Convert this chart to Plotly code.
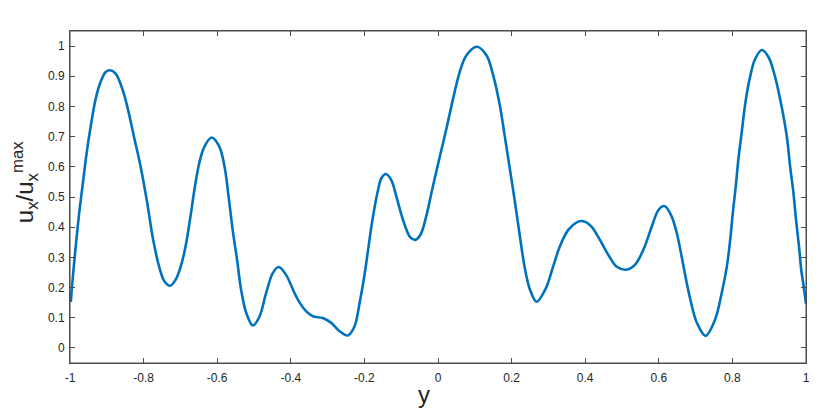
import plotly.graph_objects as go

# Values (position y, normalised velocity u_x/u_x^max)
y_pos = [-0.9976, -0.996, -0.988, -0.980, -0.973, -0.964, -0.955, -0.944, -0.931, -0.917,
         -0.903, -0.891, -0.876, -0.858, -0.844, -0.826, -0.808, -0.790, -0.774, -0.758,
         -0.743, -0.728, -0.713, -0.699, -0.686, -0.672, -0.662, -0.649, -0.635, -0.615,
         -0.594, -0.580, -0.569, -0.558, -0.546, -0.535, -0.521, -0.503, -0.485, -0.467,
         -0.449, -0.433, -0.413, -0.390, -0.376, -0.358, -0.340, -0.313, -0.290, -0.267,
         -0.245, -0.227, -0.213, -0.199, -0.190, -0.181, -0.172, -0.163, -0.154, -0.142,
         -0.127, -0.113, -0.100, -0.087, -0.075, -0.062, -0.048, -0.032, -0.014, 0.005, 0.023,
         0.041, 0.059, 0.077, 0.106, 0.132, 0.150, 0.168, 0.181, 0.195, 0.209,
         0.222, 0.236, 0.250, 0.268, 0.292, 0.313, 0.331, 0.354, 0.377, 0.395,
         0.417, 0.440, 0.463, 0.485, 0.511, 0.535, 0.558, 0.581, 0.599, 0.615,
         0.633, 0.649, 0.662, 0.676, 0.690, 0.703, 0.727, 0.753, 0.771, 0.785,
         0.794, 0.801, 0.809, 0.816, 0.826, 0.835, 0.848, 0.862, 0.880, 0.898,
         0.916, 0.934, 0.948, 0.957, 0.966, 0.973, 0.981, 0.987, 0.993, 1.0]
ux_norm = [0.152, 0.182, 0.292, 0.391, 0.468, 0.556, 0.644, 0.732, 0.821, 0.881,
           0.914, 0.920, 0.909, 0.859, 0.798, 0.699, 0.600, 0.479, 0.358, 0.270,
           0.220, 0.206, 0.226, 0.270, 0.336, 0.440, 0.523, 0.611, 0.666, 0.697,
           0.666, 0.600, 0.501, 0.391, 0.292, 0.193, 0.116, 0.074, 0.104, 0.182,
           0.248, 0.268, 0.242, 0.182, 0.150, 0.121, 0.105, 0.099, 0.083, 0.055,
           0.041, 0.071, 0.149, 0.248, 0.325, 0.402, 0.468, 0.523, 0.562, 0.576,
           0.556, 0.501, 0.444, 0.396, 0.366, 0.358, 0.374, 0.436, 0.535, 0.634, 0.727,
           0.826, 0.914, 0.969, 0.998, 0.969, 0.903, 0.804, 0.705, 0.595, 0.484,
           0.374, 0.264, 0.193, 0.153, 0.195, 0.270, 0.336, 0.391, 0.416, 0.420,
           0.402, 0.358, 0.308, 0.270, 0.259, 0.275, 0.325, 0.402, 0.457, 0.470,
           0.441, 0.380, 0.303, 0.215, 0.138, 0.085, 0.040, 0.094, 0.182, 0.270,
           0.358, 0.446, 0.534, 0.622, 0.721, 0.810, 0.898, 0.958, 0.987, 0.964,
           0.898, 0.798, 0.699, 0.600, 0.512, 0.424, 0.336, 0.259, 0.210, 0.146]

x_ticks = [-1, -0.8, -0.6, -0.4, -0.2, 0, 0.2, 0.4, 0.6, 0.8, 1]
x_tick_text = ["-1", "-0.8", "-0.6", "-0.4", "-0.2", "0", "0.2", "0.4", "0.6", "0.8", "1"]
y_ticks = [0, 0.1, 0.2, 0.3, 0.4, 0.5, 0.6, 0.7, 0.8, 0.9, 1]
y_tick_text = ["0", "0.1", "0.2", "0.3", "0.4", "0.5", "0.6", "0.7", "0.8", "0.9", "1"]

FONT = "Liberation Sans, Arial, sans-serif"
TXT = "#262626"

fig = go.Figure()
fig.add_trace(go.Scatter(
    x=y_pos, y=ux_norm, mode="lines",
    line=dict(color="#0072BD", width=2.6, shape="spline", smoothing=1.0),
    showlegend=False, hoverinfo="x+y"))

axis_common = dict(
    showline=True, linecolor="#4d4d4d", linewidth=1, mirror="ticks",
    ticks="inside", ticklen=5, tickwidth=1, tickcolor="#4d4d4d",
    showgrid=False, zeroline=False, automargin=False,
    tickfont=dict(family=FONT, size=12, color=TXT),
)

# The page body adds an 8px offset, so the figure is 8px smaller and margins shifted
fig.update_layout(
    width=822, height=401,
    margin=dict(l=61.5, r=23.5, t=22.5, b=45.7),
    paper_bgcolor="white", plot_bgcolor="white",
    xaxis=dict(range=[-1, 1], tickvals=x_ticks, ticktext=x_tick_text,
               ticklabelstandoff=4, **axis_common),
    yaxis=dict(range=[-0.05, 1.05], tickvals=y_ticks, ticktext=y_tick_text,
               ticklabelstandoff=2, **axis_common),
    shapes=[dict(type="rect", xref="paper", yref="paper", x0=0, y0=0, x1=1, y1=1,
                 line=dict(color="#4d4d4d", width=1), layer="above")],
    annotations=[
        dict(text="y", xref="paper", yref="paper", x=0.481, y=-0.094,
             xanchor="center", yanchor="middle", showarrow=False,
             font=dict(family=FONT, size=24, color=TXT)),
        dict(text="u<sub>x</sub>/u<sub>x</sub><sup>max</sup>", xref="paper", yref="paper",
             x=-0.061, y=0.545, xanchor="center", yanchor="middle", textangle=-90,
             showarrow=False, font=dict(family=FONT, size=24, color=TXT)),
    ],
)

fig.write_html("out.html")
